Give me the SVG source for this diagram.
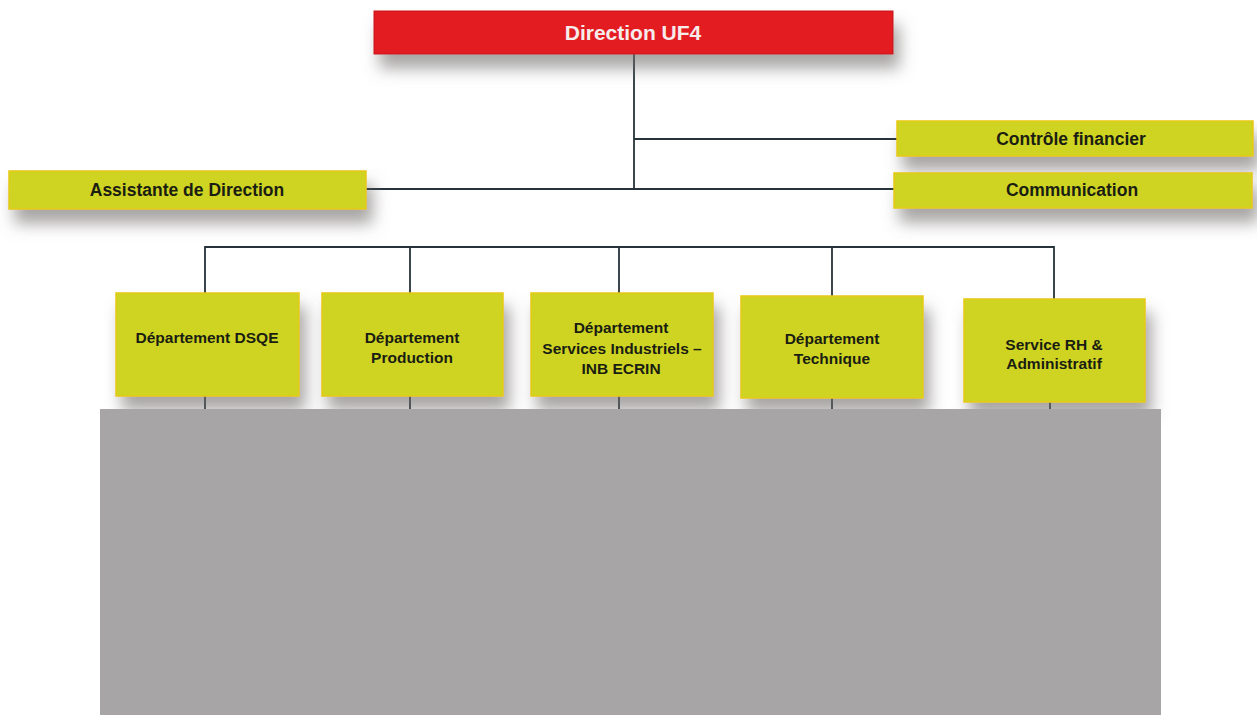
<svg xmlns="http://www.w3.org/2000/svg" width="1257" height="715" viewBox="0 0 1257 715">
<defs>
<filter id="sh" x="-10%" y="-40%" width="125%" height="230%">
<feGaussianBlur in="SourceAlpha" stdDeviation="8"/>
<feOffset dx="6" dy="14" result="b"/>
<feFlood flood-color="#6e6a68" flood-opacity="0.6"/>
<feComposite in2="b" operator="in"/>
<feMerge><feMergeNode/><feMergeNode in="SourceGraphic"/></feMerge>
</filter>
<style>
.box{fill:#cfd422;stroke:#e6c814;stroke-width:1.5;filter:url(#sh)}
.red{fill:#e31b23;stroke:#c8141b;stroke-width:1;filter:url(#sh)}
.t{font-family:"Liberation Sans",Arial,sans-serif;font-weight:bold;font-size:17.5px;fill:#1a1d12;text-anchor:middle}
.d{font-size:15.5px}
.tw{font-family:"Liberation Sans",Arial,sans-serif;font-weight:bold;font-size:21px;fill:#f6ecec;text-anchor:middle}
.c{stroke:#26333a;stroke-width:1.8;fill:none}
</style>
</defs>
<rect width="1257" height="715" fill="#ffffff"/>
<g id="connectors">
<path class="c" d="M634 54V189"/>
<path class="c" d="M634 139H897"/>
<path class="c" d="M366 189H894"/>
<path class="c" d="M205 293V247H1054V299"/>
<path class="c" d="M410 247V293"/>
<path class="c" d="M619 247V293"/>
<path class="c" d="M832 247V296"/>
<path class="c" d="M205 396V410M410 396V410M619 396V410M832 398V410M1050 402V410"/>
</g>
<g id="n-direction">
<rect class="red" x="374" y="11" width="519" height="43"/>
<text class="tw" x="633" y="40">Direction UF4</text>
</g>
<g id="n-assistante">
<rect class="box" x="9" y="171" width="357" height="38"/>
<text class="t" x="187" y="196">Assistante de Direction</text>
</g>
<g id="n-controle">
<rect class="box" x="897" y="121" width="356" height="35"/>
<text class="t" x="1071" y="145">Contrôle financier</text>
</g>
<g id="n-communication">
<rect class="box" x="894" y="173" width="358" height="35"/>
<text class="t" x="1072" y="196">Communication</text>
</g>
<g id="n-dsqe">
<rect class="box" x="116" y="293" width="183" height="103"/>
<text class="t d" x="207" y="343">Département DSQE</text>
</g>
<g id="n-production">
<rect class="box" x="322" y="293" width="181" height="103"/>
<text class="t d" x="412" y="343">Département</text>
<text class="t d" x="412" y="363">Production</text>
</g>
<g id="n-si">
<rect class="box" x="531" y="293" width="182" height="103"/>
<text class="t d" x="621" y="333">Département</text>
<text class="t d" x="622" y="354">Services Industriels –</text>
<text class="t d" x="621" y="374">INB ECRIN</text>
</g>
<g id="n-technique">
<rect class="box" x="741" y="296" width="182" height="102"/>
<text class="t d" x="832" y="344">Département</text>
<text class="t d" x="832" y="364">Technique</text>
</g>
<g id="n-rh">
<rect class="box" x="964" y="299" width="181" height="103"/>
<text class="t d" x="1054" y="350">Service RH &amp;</text>
<text class="t d" x="1054" y="369">Administratif</text>
</g>
<rect x="100" y="409" width="1061" height="306" fill="#a7a5a6"/>
</svg>
